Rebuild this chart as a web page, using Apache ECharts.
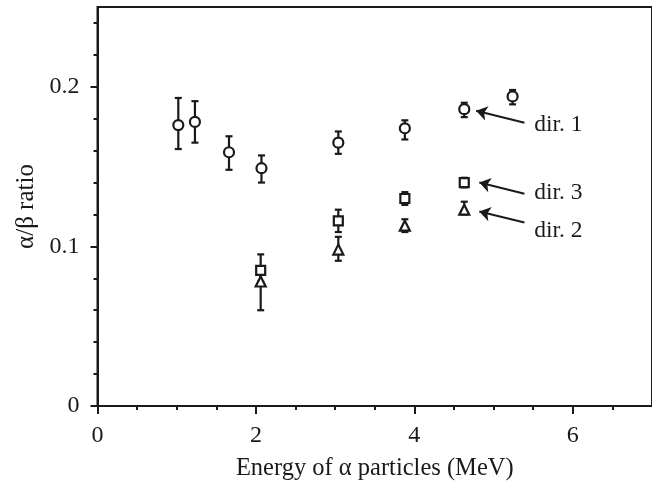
<!DOCTYPE html>
<html>
<head>
<meta charset="utf-8">
<script src="https://cdn.jsdelivr.net/npm/echarts@6/dist/echarts.min.js"></script>
<style>
  html, body { margin: 0; padding: 0; background: #fff; }
  #chart { width: 652px; height: 486px; }
</style>
</head>
<body>
<div id="chart"></div>
<script>
// dir. 1 (circles)
const dir1X = [1.02, 1.23, 1.66, 2.07, 3.04, 3.88, 4.63, 5.24];
const dir1Y = [0.176, 0.178, 0.159, 0.149, 0.165, 0.174, 0.186, 0.194];
const dir1Lo = [0.161, 0.165, 0.148, 0.140, 0.158, 0.167, 0.181, 0.189];
const dir1Hi = [0.193, 0.191, 0.169, 0.157, 0.172, 0.179, 0.190, 0.198];

// dir. 3 (squares)
const dir3X = [2.06, 3.04, 3.88, 4.63];
const dir3Y = [0.085, 0.116, 0.130, 0.140];
const dir3Lo = [0.078, 0.109, 0.126, 0.137];
const dir3Hi = [0.095, 0.123, 0.134, 0.143];

// dir. 2 (triangles)
const dir2X = [2.06, 3.04, 3.88, 4.63];
const dir2Y = [0.078, 0.098, 0.113, 0.123];
const dir2Lo = [0.060, 0.091, 0.109, 0.120];
const dir2Hi = [0.086, 0.106, 0.117, 0.128];

// tick positions
const xMajorTicks = [0, 2, 4, 6];
const xMinorTicks = [0.5, 1, 1.5, 2.5, 3, 3.5, 4.5, 5, 5.5, 6.5];
const yMajorTicks = [0, 0.1, 0.2];
const yMinorTicks = [0.02, 0.04, 0.06, 0.08, 0.12, 0.14, 0.16, 0.18, 0.22, 0.24];

// arrow annotations: [tail, head] in data units
const arrowLabels = ['dir. 1', 'dir. 3', 'dir. 2'];
const arrowTails = [[5.39, 0.1775], [5.39, 0.133], [5.39, 0.115]];
const arrowHeads = [[4.78, 0.185], [4.82, 0.140], [4.82, 0.1219]];

const ink = '#1a1a1a';
const serif = 'Liberation Serif';
const labelShift = [[0, 0], [0, -3], [0, 6]];

let chart = echarts.init(document.getElementById('chart'));

function errData(xs, lo, hi) {
    return xs.map(function (x, i) { return [x, lo[i], hi[i]]; });
}
function ptData(xs, ys) {
    return xs.map(function (x, i) { return [x, ys[i]]; });
}

// vertical error bar with caps
function renderErr(params, api) {
    const top = api.coord([api.value(0), api.value(2)]);
    const bot = api.coord([api.value(0), api.value(1)]);
    const w = 3.5;
    const st = { stroke: ink, lineWidth: 2.2 };
    return {
        type: 'group',
        children: [
            { type: 'line', shape: { x1: top[0], y1: top[1], x2: bot[0], y2: bot[1] }, style: st },
            { type: 'line', shape: { x1: top[0] - w, y1: top[1], x2: top[0] + w, y2: top[1] }, style: st },
            { type: 'line', shape: { x1: bot[0] - w, y1: bot[1], x2: bot[0] + w, y2: bot[1] }, style: st }
        ]
    };
}

function errSeries(xs, lo, hi) {
    return {
        type: 'custom',
        renderItem: renderErr,
        data: errData(xs, lo, hi),
        encode: { x: 0, y: [1, 2] },
        z: 2,
        silent: true
    };
}

function markSeries(xs, ys, symbol, size) {
    return {
        type: 'scatter',
        data: ptData(xs, ys),
        symbol: symbol,
        symbolSize: size,
        itemStyle: { color: '#fff', borderColor: ink, borderWidth: 2.2, opacity: 1 },
        z: 3,
        silent: true
    };
}

let arrowLines = arrowTails.map(function (t, i) {
    return [
        { coord: t, label: { formatter: arrowLabels[i], offset: labelShift[i] } },
        { coord: arrowHeads[i] }
    ];
});

let dir1Marks = markSeries(dir1X, dir1Y, 'circle', 10);
dir1Marks.markLine = {
    silent: true,
    symbol: ['none', 'arrow'],
    symbolSize: 11,
    lineStyle: { color: ink, width: 2, type: 'solid' },
    label: {
        show: true,
        position: 'start',
        distance: 10,
        color: ink,
        fontFamily: serif,
        fontSize: 23.5
    },
    data: arrowLines
};

let axisCommon = {
    min: 0,
    splitLine: { show: false },
    axisLine: { show: true, lineStyle: { color: ink, width: 2 } }
};

let options = {
    backgroundColor: '#fff',
    animation: false,
    grid: {
        left: 97.5,
        top: 7,
        width: 560,
        bottom: 79,
        show: true,
        borderColor: ink,
        borderWidth: 2
    },
    xAxis: [
        Object.assign({}, axisCommon, {
            type: 'value',
            max: 7,
            name: 'Energy of \u03b1 particles (MeV)',
            nameLocation: 'middle',
            nameGap: 50,
            nameTextStyle: { color: ink, fontFamily: serif, fontSize: 24.5 },
            axisTick: { show: true, length: 8, customValues: xMajorTicks, lineStyle: { color: ink, width: 2 } },
            axisLabel: { customValues: xMajorTicks, color: ink, fontFamily: serif, fontSize: 24, margin: 18 }
        }),
        Object.assign({}, axisCommon, {
            type: 'value',
            max: 7,
            position: 'bottom',
            axisLine: { show: false },
            axisTick: { show: true, length: 4, customValues: xMinorTicks, lineStyle: { color: ink, width: 2 } },
            axisLabel: { show: false }
        })
    ],
    yAxis: [
        Object.assign({}, axisCommon, {
            type: 'value',
            max: 0.25,
            name: '\u03b1/\u03b2 ratio',
            nameLocation: 'middle',
            nameGap: 57,
            nameTextStyle: { color: ink, fontFamily: serif, fontSize: 25 },
            axisTick: { show: true, length: 7, customValues: yMajorTicks, lineStyle: { color: ink, width: 2 } },
            axisLabel: { customValues: yMajorTicks, color: ink, fontFamily: serif, fontSize: 24, margin: 18 }
        }),
        Object.assign({}, axisCommon, {
            type: 'value',
            max: 0.25,
            position: 'left',
            axisLine: { show: false },
            axisTick: { show: true, length: 4, customValues: yMinorTicks, lineStyle: { color: ink, width: 2 } },
            axisLabel: { show: false }
        })
    ],
    series: [
        errSeries(dir1X, dir1Lo, dir1Hi),
        errSeries(dir3X, dir3Lo, dir3Hi),
        errSeries(dir2X, dir2Lo, dir2Hi),
        dir1Marks,
        markSeries(dir3X, dir3Y, 'rect', 9),
        markSeries(dir2X, dir2Y, 'triangle', 10)
    ]
};

chart.setOption(options);
</script>
</body>
</html>
